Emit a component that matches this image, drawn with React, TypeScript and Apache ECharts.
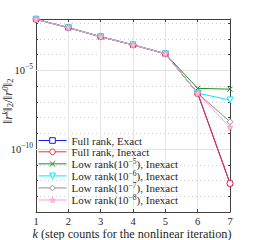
import React, { useEffect, useRef } from "react";
import * as echarts from "echarts";

// k (step counts)
const steps = [1, 2, 3, 4, 5, 6, 7];
// ||r^k||_2 / ||r^0||_2
const fullExact = [1.74e-2, 5.1e-3, 1.35e-3, 4.1e-4, 1.12e-4, 3.47e-7, 6.6e-13];
const fullInexact = [1.74e-2, 5.1e-3, 1.35e-3, 4.1e-4, 1.12e-4, 3.47e-7, 6.6e-13];
const lowRank5 = [1.74e-2, 5.1e-3, 1.35e-3, 4.1e-4, 1.12e-4, 7.1e-7, 6.3e-7];
const lowRank6 = [1.74e-2, 5.1e-3, 1.35e-3, 4.1e-4, 1.12e-4, 3.5e-7, 1.29e-7];
const lowRank7 = [1.74e-2, 5.1e-3, 1.35e-3, 4.1e-4, 1.12e-4, 3.5e-7, 5.4e-9];
const lowRank8 = [1.74e-2, 5.1e-3, 1.35e-3, 4.1e-4, 1.12e-4, 3.4e-7, 2.4e-9];

const seriesNames = [
  "Full rank, Exact",
  "Full rank, Inexact",
  "Low rank(10⁻⁵), Inexact",
  "Low rank(10⁻⁶), Inexact",
  "Low rank(10⁻⁷), Inexact",
  "Low rank(10⁻⁸), Inexact",
];
const legendRich = [
  "{t|Full rank, Exact}",
  "{t|Full rank, Inexact}",
  "{t|Low rank(10}{s|−5}{t|), Inexact}",
  "{t|Low rank(10}{s|−6}{t|), Inexact}",
  "{t|Low rank(10}{s|−7}{t|), Inexact}",
  "{t|Low rank(10}{s|−8}{t|), Inexact}",
];
const yMin = 1e-14;
const yMax = 1.8e-2;
const yLabelExponents = [-5, -10];
const xTitle = " (step counts for the nonlinear iteration)";

const SERIF = "'Liberation Serif', 'DejaVu Serif', serif";
const FRAME = "#404040";

const X_PATH = "path://M0,0L10,10M0,10L10,0";
const STAR_PATH =
  "path://M5,0L6.18,3.63L10,3.63L6.91,5.87L8.09,9.51L5,7.27L1.91,9.51L3.09,5.87L0,3.63L3.82,3.63Z";

export default function App() {
  const ref = useRef<HTMLDivElement>(null);
  useEffect(() => {
    if (!ref.current) return;
    const chart = echarts.init(ref.current, undefined, { renderer: "svg" });
    const toLog = (arr: number[]) => arr.map((v, i) => [steps[i], Math.log10(v)]);
    const valueSets = [fullExact, fullInexact, lowRank5, lowRank6, lowRank7, lowRank8];
    const colors = ["#1a1aff", "#ff2a2a", "#1f8f1f", "#00eaff", "#8f8f8f", "#ff9fcf"];
    const symbols = ["rect", "circle", X_PATH, "triangle", "diamond", STAR_PATH];
    const sizes = [5, 6, 5, 6, 6, 6];
    const rotates = [0, 0, 0, 180, 0, 0];
    const fills = ["#fff", "#fff", "#1f8f1f", "#fff", "#fff", "#ffc2e0"];

    const series: any[] = valueSets.map((vals, i) => ({
      type: "line",
      name: seriesNames[i],
      data: toLog(vals),
      symbol: symbols[i],
      symbolSize: sizes[i],
      symbolRotate: rotates[i],
      showAllSymbol: true,
      lineStyle: { color: colors[i], width: 1 },
      itemStyle: { color: fills[i], borderColor: colors[i], borderWidth: 1 },
      emphasis: { disabled: true },
      xAxisIndex: 0,
      yAxisIndex: 0,
    }));
    series[0].markLine = {
      silent: true,
      symbol: ["none", "none"],
      label: { show: false },
      z: 1,
      lineStyle: { color: "#e2e2e2", type: "solid", width: 1 },
      data: yLabelExponents.map((e) => ({ yAxis: e })),
    };

    const yLabelFmt = (v: number) => {
      const r = Math.round(v);
      if (Math.abs(v - r) < 1e-6 && yLabelExponents.includes(r)) {
        return "{b|10}{s|−" + Math.abs(r) + "}";
      }
      return "";
    };

    const yCommon = {
      type: "value",
      min: Math.log10(yMin),
      max: Math.log10(yMax),
      interval: 1,
    };
    const xCommon = { type: "value", min: 1, max: 7, interval: 1 };

    chart.setOption({
      animation: false,
      grid: { left: 36, right: 28, top: 19, bottom: 28, containLabel: false },
      xAxis: [
        {
          ...xCommon,
          position: "bottom",
          axisLine: { show: true, lineStyle: { color: FRAME, width: 1 } },
          axisTick: { show: true, inside: true, length: 3, lineStyle: { color: FRAME } },
          axisLabel: { fontFamily: SERIF, fontSize: 10.5, lineHeight: 11, color: "#262626", margin: 4 },
          splitLine: { show: true, lineStyle: { color: "#e6e6e6", width: 1 } },
        },
        {
          ...xCommon,
          position: "top",
          axisLine: { show: true, lineStyle: { color: FRAME, width: 1 } },
          axisTick: { show: true, inside: true, length: 3, lineStyle: { color: FRAME } },
          axisLabel: { show: false },
          splitLine: { show: false },
        },
      ],
      yAxis: [
        {
          ...yCommon,
          position: "left",
          axisLine: { show: true, lineStyle: { color: FRAME, width: 1 } },
          axisTick: { show: true, inside: true, length: 2, lineStyle: { color: FRAME } },
          axisLabel: {
            formatter: yLabelFmt,
            margin: 3,
            color: "#262626",
            rich: {
              b: { fontFamily: SERIF, fontSize: 10.5, lineHeight: 16, color: "#262626" },
              s: { fontFamily: SERIF, fontSize: 7.5, lineHeight: 8, verticalAlign: "top", color: "#262626" },
            },
          },
          splitLine: { show: true, lineStyle: { color: "#cfcfcf", type: [1, 3], width: 1 } },
        },
        {
          ...yCommon,
          position: "right",
          axisLine: { show: true, lineStyle: { color: FRAME, width: 1 } },
          axisTick: { show: true, inside: true, length: 2, lineStyle: { color: FRAME } },
          axisLabel: { show: false },
          splitLine: { show: false },
        },
      ],
      legend: {
        orient: "vertical",
        left: 33,
        top: 130,
        padding: 5,
        itemWidth: 28,
        itemHeight: 7,
        itemGap: 0.3,
        selectedMode: false,
        data: seriesNames,
        lineStyle: { width: 1 },
        itemStyle: { borderWidth: 1 },
        formatter: (name: string) => legendRich[seriesNames.indexOf(name)],
        textStyle: {
          fontFamily: SERIF,
          fontSize: 11,
          color: "#262626",
          rich: {
            t: { fontFamily: SERIF, fontSize: 11, lineHeight: 12.5, color: "#262626" },
            s: { fontFamily: SERIF, fontSize: 7.5, lineHeight: 6, verticalAlign: "top", color: "#262626" },
          },
        },
      },
      graphic: [
        {
          type: "text",
          x: 132,
          y: 233.5,
          style: {
            text: "{i|k}{t|" + xTitle + "}",
            align: "center",
            verticalAlign: "middle",
            rich: {
              i: { fontFamily: SERIF, fontSize: 12.2, lineHeight: 12, fontStyle: "italic", fill: "#262626" },
              t: { fontFamily: SERIF, fontSize: 12.2, lineHeight: 12, fill: "#262626" },
            },
          },
        },
        {
          type: "text",
          x: 7.5,
          y: 101,
          rotation: Math.PI / 2,
          style: {
            text: "{n|‖}{r|r}{sup|k}{n|‖}{sub|2}{n|/‖}{r|r}{sup|0}{n|‖}{sub|2}",
            align: "center",
            verticalAlign: "middle",
            rich: {
              n: { fontFamily: SERIF, fontSize: 13, lineHeight: 14, fill: "#262626" },
              r: { fontFamily: SERIF, fontSize: 13, lineHeight: 14, fontStyle: "italic", fill: "#262626" },
              sup: { fontFamily: SERIF, fontSize: 8.5, lineHeight: 8, verticalAlign: "top", fontStyle: "italic", fill: "#262626" },
              sub: { fontFamily: SERIF, fontSize: 8.5, lineHeight: 8, verticalAlign: "bottom", fill: "#262626" },
            },
          },
        },
      ],
      series,
    });
    return () => chart.dispose();
  }, []);
  return (
    <div
      ref={ref}
      style={{ position: "absolute", left: 0, top: 0, width: 258, height: 240 }}
    />
  );
}
